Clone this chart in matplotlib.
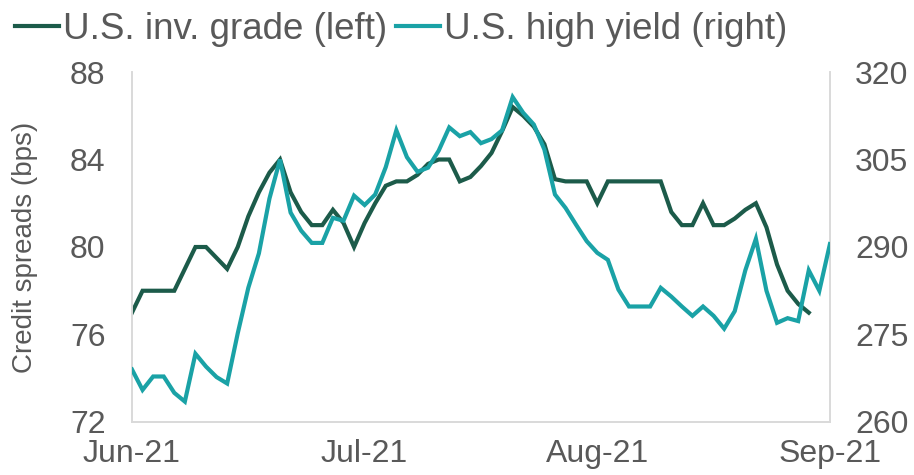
import numpy as np
import pandas as pd
import matplotlib
matplotlib.use("Agg")
import matplotlib.pyplot as plt

# business days, 1 Jun 2021 .. 1 Sep 2021
dates = pd.bdate_range("2021-06-01", "2021-09-01")

# U.S. investment grade spreads (bps, left axis) - series ends a bit before Sep 1
ig_spread = [
    77, 78, 78, 78, 78, 79, 80, 80, 79.5, 79,
    80, 81.4, 82.5, 83.4, 84, 82.5, 81.6, 81, 81, 81.7,
    81.1, 80, 81.1, 82, 82.8, 83, 83, 83.3, 83.8, 84,
    84, 83, 83.2, 83.7, 84.3, 85.3, 86.4, 86, 85.5, 84.7,
    83.1, 83, 83, 83, 82, 83, 83, 83, 83, 83,
    83, 81.6, 81, 81, 82, 81, 81, 81.3, 81.7, 82,
    80.9, 79.2, 78, 77.4, 77,
]

# U.S. high yield spreads (bps, right axis)
hy_spread = [
    269, 265.5, 267.8, 267.8, 265, 263.5, 271.7, 269.5, 267.7, 266.6,
    275.2, 283, 288.9, 298.3, 305, 295.9, 292.8, 290.7, 290.7, 295,
    294.5, 298.8, 297.2, 299, 303.7, 310, 305.4, 302.9, 303.6, 306.5,
    310.5, 309, 309.7, 307.8, 308.5, 310, 315.7, 313, 311, 306.7,
    299, 296.7, 293.8, 291, 289, 287.8, 282.7, 279.8, 279.8, 279.8,
    283, 281.5, 279.8, 278.2, 279.8, 278.2, 276, 279, 286, 291.4,
    282.5, 277, 277.8, 277.3, 286, 282.5, 290.5,
]

ig_label = "U.S. inv. grade (left)"
hy_label = "U.S. high yield (right)"

dark_green = "#1c5b4a"
teal = "#1aa2a6"
grey_text = "#595959"
frame = "#d9d9d9"

plt.rcParams["font.family"] = ["Liberation Sans", "DejaVu Sans"]

fig = plt.figure(figsize=(9.14, 4.75), dpi=100)
ax = fig.add_axes([0.1444, 0.1116, 0.7636, 0.7368])
ax2 = ax.twinx()

x = np.arange(len(dates))
l1, = ax.plot(x[:len(ig_spread)], ig_spread, color=dark_green, lw=3,
              solid_joinstyle="miter", label=ig_label, zorder=2)
l2, = ax2.plot(x[:len(hy_spread)], hy_spread, color=teal, lw=3,
               solid_joinstyle="miter", label=hy_label, zorder=3)

ax.set_xlim(0, len(dates) - 1)
ax.set_ylim(72, 88)
ax.set_yticks([72, 76, 80, 84, 88])
ax2.set_ylim(260, 320)
ax2.set_yticks([260, 275, 290, 305, 320])

# month ticks at the first business day of each month
month_start = [i for i in range(len(dates)) if i == 0 or dates[i].month != dates[i - 1].month]
ax.set_xticks(month_start)
ax.set_xticklabels([dates[i].strftime("%b-%y") for i in month_start])

for a in (ax, ax2):
    a.tick_params(length=0, labelsize=23, colors=grey_text)
    a.spines["top"].set_visible(False)
    for s in ("left", "right", "bottom"):
        a.spines[s].set_color(frame)
        a.spines[s].set_linewidth(1.2)
    a.set_facecolor("none")
ax.tick_params(axis="y", pad=19)
ax2.tick_params(axis="y", pad=18)
ax.tick_params(axis="x", pad=12)

ax.set_ylabel("Credit spreads (bps)", fontsize=20, color=grey_text)
ax.yaxis.set_label_coords(-0.134, 0.5)

fig.legend(handles=[l1, l2], loc="upper left", bbox_to_anchor=(15 / 914, 1 - 12 / 475),
           ncol=2, frameon=False, fontsize=26.5, handlelength=1.2,
           handletextpad=0.1, columnspacing=0.25, borderpad=0,
           borderaxespad=0, labelcolor=grey_text)

fig.savefig("out.png", dpi=100)
